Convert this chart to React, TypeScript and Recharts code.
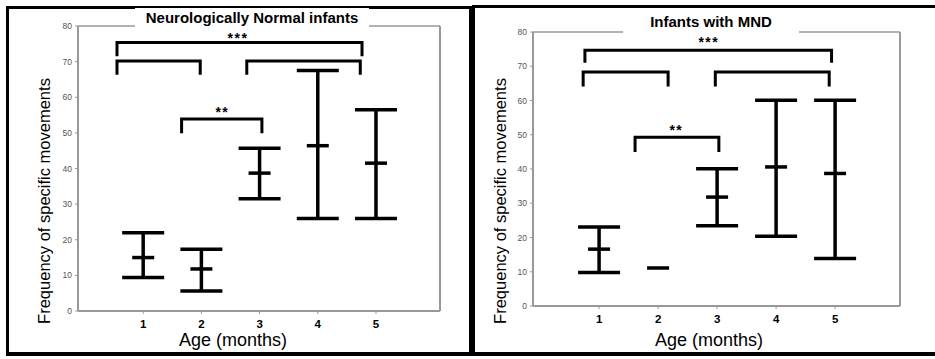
import { ComposedChart, Scatter, ErrorBar, Line, XAxis, YAxis, ReferenceLine } from "recharts";

const months = [1, 2, 3, 4, 5];
const yTicks = [0, 10, 20, 30, 40, 50, 60, 70, 80];

const normalMean = [15.0, 11.8, 38.7, 46.4, 41.5];
const normalLow = [9.4, 5.6, 31.5, 26.0, 26.0];
const normalHigh = [22.0, 17.3, 45.7, 67.5, 56.5];

const mndMean = [16.6, 11.1, 31.8, 40.6, 38.7];
const mndLow: (number | null)[] = [9.8, null, 23.4, 20.4, 13.9];
const mndHigh: (number | null)[] = [23.1, null, 40.1, 60.1, 60.1];

// significance brackets: [from, to, top, foot]
const normalBrackets = [
  [0.55, 4.76, 75.4, 71.5],
  [0.55, 1.98, 70.2, 66.3],
  [2.78, 4.73, 70.2, 66.3],
  [1.66, 3.04, 53.9, 49.9],
];
const mndBrackets = [
  [0.76, 4.94, 74.7, 71.0],
  [0.73, 2.17, 68.3, 64.1],
  [2.97, 4.9, 68.3, 64.1],
  [1.61, 3.03, 49.3, 45.0],
];

const normalStars = [
  { x: 2.63, y: 77.6, text: "***" },
  { x: 2.36, y: 56.6, text: "**" },
];
const mndStars = [
  { x: 2.86, y: 77.9, text: "***" },
  { x: 2.31, y: 52.2, text: "**" },
];

const FONT = '"Liberation Sans", Arial, sans-serif';
const AXIS = "#999";

const MeanTick = (p: any) => (
  <line x1={p.cx - 11} x2={p.cx + 11} y1={p.cy} y2={p.cy} stroke="#000" strokeWidth={3.5} />
);

const StarText = (p: any) => (
  <text x={p.cx} y={p.cy + 8} textAnchor="middle" fontSize={14} fontWeight="bold" letterSpacing={1.5} fill="#000">
    {p.payload?.text ?? p.text}
  </text>
);

function Panel({
  mean,
  low,
  high,
  brackets,
  stars,
  width,
  margin,
}: {
  mean: number[];
  low: (number | null)[];
  high: (number | null)[];
  brackets: number[][];
  stars: { x: number; y: number; text: string }[];
  width: number;
  margin: { top: number; right: number; bottom: number; left: number };
}) {
  const points = months.map((m, i) => {
    const lo = low[i];
    const hi = high[i];
    return {
      x: m,
      y: mean[i],
      err: lo == null || hi == null ? null : [mean[i] - lo, hi - mean[i]],
    };
  });

  return (
    <ComposedChart width={width} height={359} margin={margin}>
      <XAxis
        type="number"
        dataKey="x"
        domain={[-0.12, 6.1]}
        allowDataOverflow
        ticks={months}
        height={30}
        tickSize={3}
        tickMargin={6}
        axisLine={{ stroke: AXIS, strokeWidth: 2 }}
        tickLine={{ stroke: AXIS }}
        tick={{ fontSize: 11.5, fontWeight: "bold", fill: "#000" }}
      />
      <YAxis
        type="number"
        domain={[0, 80]}
        ticks={yTicks}
        width={30}
        tickSize={3}
        tickMargin={3}
        axisLine={{ stroke: AXIS, strokeWidth: 2 }}
        tickLine={{ stroke: AXIS }}
        tick={{ fontSize: 8.5, fill: "#555" }}
      />
      <ReferenceLine x={6.1} stroke={AXIS} strokeWidth={2} />
      <ReferenceLine y={80} stroke={AXIS} strokeWidth={1.5} />
      {brackets.map(([from, to, top, foot], i) => (
        <Line
          key={i}
          data={[
            { x: from, y: foot },
            { x: from, y: top },
            { x: to, y: top },
            { x: to, y: foot },
          ]}
          dataKey="y"
          type="linear"
          stroke="#000"
          strokeWidth={3}
          strokeLinejoin="miter"
          dot={false}
          activeDot={false}
          isAnimationActive={false}
        />
      ))}
      <Scatter data={points} dataKey="y" shape={MeanTick} isAnimationActive={false}>
        <ErrorBar dataKey="err" direction="y" width={21} stroke="#000" strokeWidth={3.5} />
      </Scatter>
      <Scatter data={stars} dataKey="y" shape={StarText} isAnimationActive={false} />
    </ComposedChart>
  );
}

const abs = (s: React.CSSProperties): React.CSSProperties => ({ position: "absolute", ...s });

export default function App() {
  return (
    <div style={abs({ left: 0, top: 0, width: 935, height: 359, background: "#fff", overflow: "hidden", fontFamily: FONT })}>
      <div style={abs({ left: 6, top: 6, width: 466, height: 350, border: "3px solid #000", borderBottomWidth: 4, boxSizing: "border-box" })} />
      <div style={abs({ left: 472, top: 5, width: 463, height: 351, borderTop: "3px solid #000", borderLeft: "3px solid #000", borderBottom: "4px solid #000", boxSizing: "border-box" })} />

      <div style={abs({ left: 0, top: 0 })}>
        <Panel
          mean={normalMean}
          low={normalLow}
          high={normalHigh}
          brackets={normalBrackets}
          stars={normalStars}
          width={470}
          margin={{ top: 26, right: 30, bottom: 18, left: 48 }}
        />
      </div>
      <div style={abs({ left: 470, top: 0 })}>
        <Panel
          mean={mndMean}
          low={mndLow}
          high={mndHigh}
          brackets={mndBrackets}
          stars={mndStars}
          width={465}
          margin={{ top: 32, right: 35, bottom: 23, left: 33 }}
        />
      </div>

      <div style={abs({ left: 135, top: 8, width: 234, height: 20, lineHeight: "20px", background: "#fff", textAlign: "center", fontSize: 15, fontWeight: "bold" })}>
        Neurologically Normal infants
      </div>
      <div style={abs({ left: 623, top: 12, width: 176, height: 21, lineHeight: "20px", background: "#fff", textAlign: "center", fontSize: 15, fontWeight: "bold" })}>
        Infants with MND
      </div>

      <div style={abs({ left: 44 - 150, top: 201 - 10, width: 300, height: 20, lineHeight: "20px", textAlign: "center", fontSize: 16.5, transform: "rotate(-90deg)" })}>
        Frequency of specific movements
      </div>
      <div style={abs({ left: 500 - 150, top: 201 - 10, width: 300, height: 20, lineHeight: "20px", textAlign: "center", fontSize: 16.5, transform: "rotate(-90deg)" })}>
        Frequency of specific movements
      </div>

      <div style={abs({ left: 233 - 80, top: 331, width: 160, height: 18, lineHeight: "18px", textAlign: "center", fontSize: 18 })}>
        Age (months)
      </div>
      <div style={abs({ left: 709 - 80, top: 331, width: 160, height: 18, lineHeight: "18px", textAlign: "center", fontSize: 18 })}>
        Age (months)
      </div>
    </div>
  );
}
